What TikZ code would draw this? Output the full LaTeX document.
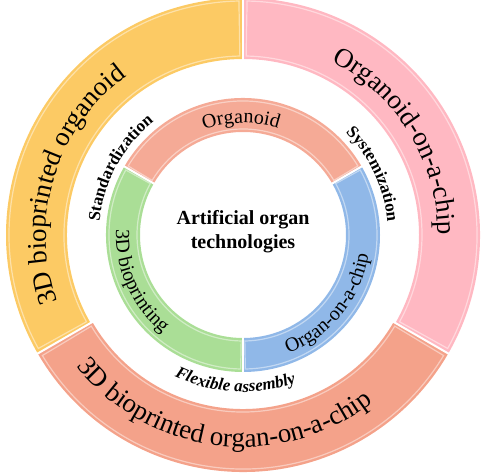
\documentclass[tikz,border=0pt]{standalone}
\usepackage{fontspec}
\setmainfont{Liberation Serif}
\usetikzlibrary{decorations.text}
\definecolor{ringyellow}{RGB}{252,202,100}
\definecolor{ringpink}{RGB}{255,184,194}
\definecolor{ringsalmon}{RGB}{244,162,138}
\definecolor{inorganoid}{RGB}{245,170,150}
\definecolor{ingreen}{RGB}{170,222,150}
\definecolor{inblue}{RGB}{144,184,232}
\newcommand\ringsector[5]{%
  \fill[#1] (#2:#5) arc[start angle=#2,end angle=#3,radius=#5] -- (#3:#4) arc[start angle=#3,end angle=#2,radius=#4] -- cycle;
  \draw[white,opacity=0.45,line width=1.2pt] ({#2+1}:{#5-3}) arc[start angle={#2+1},end angle={#3-1},radius={#5-3}] -- ({#3-1}:{#4+3}) arc[start angle={#3-1},end angle={#2+1},radius={#4+3}] -- cycle;
}
\tikzset{
  gapline/.style={white,line width=2pt},
  arctext/.style={decorate,decoration={text along path,text align=center,text={#1}}}
}
\begin{document}
\begin{tikzpicture}[x=1pt,y=1pt]
\useasboundingbox (0,0) rectangle (484,472);
\begin{scope}[shift={(243,237)}]
  % outer ring
  \ringsector{ringyellow}{90}{210}{176}{237}
  \ringsector{ringpink}{-30}{90}{176}{237}
  \ringsector{ringsalmon}{210}{330}{174}{237}
  \draw[gapline] (90:170) -- (90:242);
  \draw[gapline] (210:168) -- (210:242);
  \draw[gapline] (330:168) -- (330:242);
  % inner ring
  \ringsector{inorganoid}{30}{150}{103}{137}
  \ringsector{ingreen}{150}{270}{103}{137}
  \ringsector{inblue}{270}{390}{103}{137}
  \draw[gapline] (30:99) -- (30:141);
  \draw[gapline] (150:99) -- (150:141);
  \draw[gapline] (270:99) -- (270:141);
  % outer texts
  \path[arctext={|\fontsize{27}{30}\selectfont|3D bioprinted organoid}] (233:197) arc[start angle=233,end angle=93,radius=197];
  \path[arctext={|\fontsize{27}{30}\selectfont|Organoid-on-a-chip}] (101.5:195) arc[start angle=101.5,end angle=-38.5,radius=195];
  \path[arctext={|\fontsize{27}{30}\selectfont|3D bioprinted organ-on-a-chip}] (193:212) arc[start angle=193,end angle=333,radius=212];
  % inner texts
  \path[arctext={|\fontsize{20}{24}\selectfont|Organoid}] (151:112) arc[start angle=151,end angle=31,radius=112];
  \path[arctext={|\fontsize{20}{24}\selectfont|3D bioprinting}] (150:127) arc[start angle=150,end angle=258,radius=127];
  \path[arctext={|\fontsize{20}{24}\selectfont|Organ-on-a-chip}] (267:127) arc[start angle=267,end angle=375,radius=127];
  % labels between rings
  \path[arctext={|\fontsize{17}{20}\selectfont\bfseries|Standardization}] (211.5:144) arc[start angle=211.5,end angle=91.5,radius=144];
  \path[arctext={|\fontsize{17}{20}\selectfont\bfseries|Systemization}] (85:145) arc[start angle=85,end angle=-35,radius=145];
  \path[arctext={|\fontsize{17}{20}\selectfont\bfseries\itshape|Flexible assembly}] (207:157) arc[start angle=207,end angle=327,radius=157];
  % centre
  \node[align=center,font=\fontsize{20}{24}\selectfont\bfseries] (centre) at (0,3) {Artificial organ\\technologies};
\end{scope}
\end{tikzpicture}
\end{document}
